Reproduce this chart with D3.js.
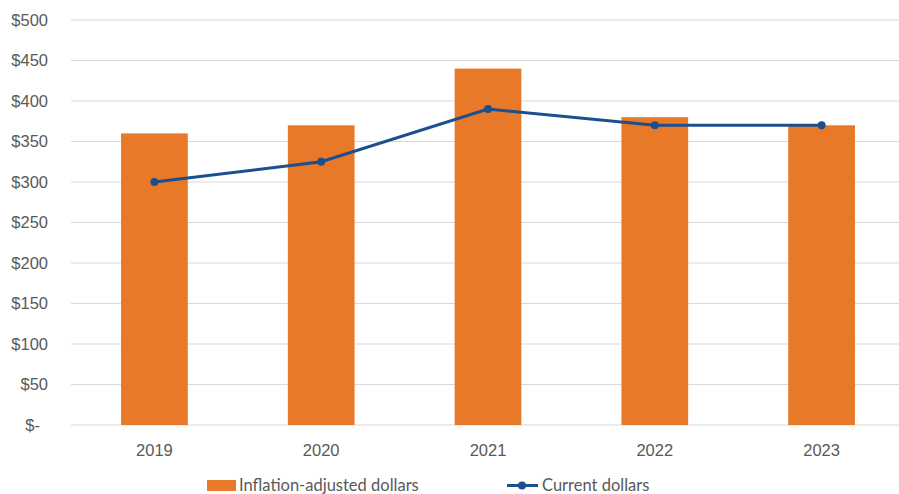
<!DOCTYPE html>
<html>
<head>
<meta charset="utf-8">
<script src="https://cdn.jsdelivr.net/npm/d3@7"></script>
<style>
  body { margin: 0; background: #fff; }
  svg { font-family: Lato, "Open Sans", sans-serif; }
</style>
</head>
<body>
<svg id="chart" width="899" height="494"></svg>
<script>
// chart data
const years = ["2019", "2020", "2021", "2022", "2023"];
const inflationAdjusted = [360, 370, 440, 380, 370];
const currentDollars = [300, 325, 390, 370, 370];
const yTicks = [0, 50, 100, 150, 200, 250, 300, 350, 400, 450, 500];

const svg = d3.select("#chart");
const margin = {top: 20, right: -6, bottom: 69, left: 71};
const width = 899 - margin.left - margin.right;
const height = 494 - margin.top - margin.bottom;

const g = svg.append("g").attr("transform", `translate(${margin.left},${margin.top})`);

const x = d3.scaleBand().domain(years).range([0, width]).paddingInner(0.6).paddingOuter(0.3);
const y = d3.scaleLinear().domain([0, 500]).range([height, 0]);

// gridlines
g.append("g")
  .selectAll("line")
  .data(yTicks)
  .enter().append("line")
  .attr("x1", 0).attr("x2", width)
  .attr("y1", d => y(d)).attr("y2", d => y(d))
  .attr("stroke", "#d9d9d9").attr("stroke-width", 1);

// y axis labels
const yAxis = g.append("g")
  .call(d3.axisLeft(y).tickValues(yTicks).tickSize(0).tickPadding(23)
    .tickFormat(d => d === 0 ? "$-" : "$" + d));
yAxis.select(".domain").remove();
yAxis.selectAll("text")
  .attr("fill", "#595959").attr("font-size", 16.5)
  .attr("dx", d => d === 0 ? -8 : 0);

// x axis labels
const xAxis = g.append("g")
  .attr("transform", `translate(0,${height})`)
  .call(d3.axisBottom(x).tickSize(0).tickPadding(19));
xAxis.select(".domain").remove();
xAxis.selectAll("text").attr("fill", "#595959").attr("font-size", 16.5);

// bars
g.selectAll(".bar")
  .data(years)
  .enter().append("rect")
  .attr("class", "bar")
  .attr("x", d => x(d))
  .attr("width", x.bandwidth())
  .attr("y", (d, i) => y(inflationAdjusted[i]))
  .attr("height", (d, i) => height - y(inflationAdjusted[i]))
  .attr("fill", "#e87928");

// line
const line = d3.line()
  .x((d, i) => x(years[i]) + x.bandwidth() / 2)
  .y(d => y(d));

g.append("path")
  .datum(currentDollars)
  .attr("d", line)
  .attr("fill", "none")
  .attr("stroke", "#1c4f8e")
  .attr("stroke-width", 3);

g.selectAll(".dot")
  .data(currentDollars)
  .enter().append("circle")
  .attr("class", "dot")
  .attr("cx", (d, i) => x(years[i]) + x.bandwidth() / 2)
  .attr("cy", d => y(d))
  .attr("r", 4)
  .attr("fill", "#1c4f8e");

// legend
const legend = svg.append("g").attr("font-size", 16.5).attr("fill", "#595959");
legend.append("rect").attr("x", 207).attr("y", 480).attr("width", 29).attr("height", 11).attr("fill", "#e87928");
legend.append("text").attr("x", 239).attr("y", 491).text("Inflation-adjusted dollars");
legend.append("line").attr("x1", 507).attr("x2", 538).attr("y1", 485.5).attr("y2", 485.5)
  .attr("stroke", "#1c4f8e").attr("stroke-width", 3);
legend.append("circle").attr("cx", 522).attr("cy", 485.5).attr("r", 4).attr("fill", "#1c4f8e");
legend.append("text").attr("x", 542).attr("y", 491).text("Current dollars");
</script>
</body>
</html>
